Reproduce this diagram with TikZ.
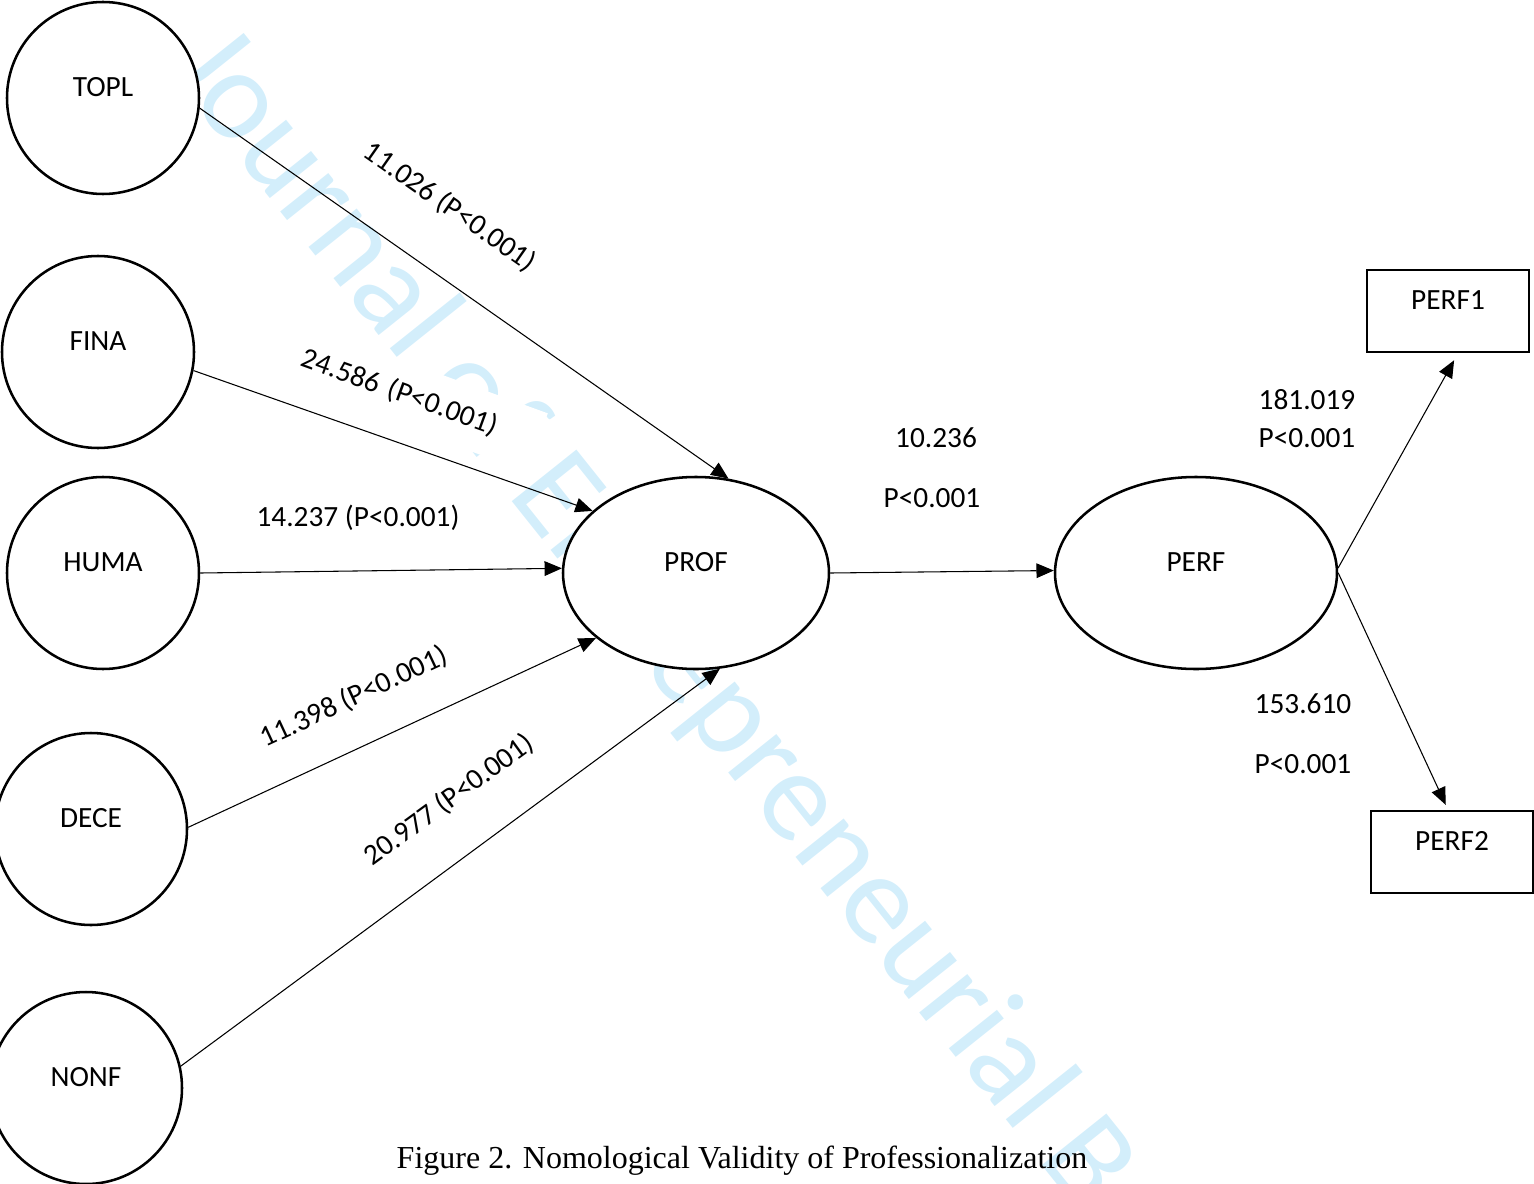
\documentclass[tikz,border=0pt]{standalone}
\usepackage{fontspec}
\setmainfont{Carlito}
\newfontfamily\capfont{Liberation Serif}
\usepackage{tikz}
\usetikzlibrary{shapes.geometric}
\usetikzlibrary{arrows.meta}
\definecolor{wmblue}{RGB}{211,238,251}
\newcommand\lblfont{\fontsize{22}{26}\selectfont}

\begin{document}
\begin{tikzpicture}[x=0.75pt,y=0.75pt,yscale=-1,xscale=1,
  latent/.style={circle, draw, line width=1.9pt, fill=white, inner sep=0pt, minimum size=144pt, text depth=16pt, font=\lblfont},
  bigoval/.style={ellipse, draw, line width=1.9pt, fill=white, inner sep=0pt, minimum height=144pt, text depth=16pt, font=\lblfont},
  indic/.style={rectangle, draw, line width=1.9pt, fill=white, inner sep=0pt, minimum width=121.5pt, minimum height=61.5pt, text depth=16pt, font=\lblfont},
  link/.style={-{Triangle[length=13pt,width=11pt]}, line width=0.8pt},
  coef/.style={font=\lblfont, inner sep=1pt, fill=white},
  wmark/.style={font=\fontsize{96.75}{97}\selectfont, text=wmblue, inner sep=0pt}]
\useasboundingbox (0,0) rectangle (1534,1184);
% Watermark
\begin{scope}
\clip (0,0) rectangle (1534,1184);
\node [wmark, rotate=-51.4, anchor=base west] (wm) at (165,67) {Journal of Entrepreneurial B};
\end{scope}
%Shape: Circle
\node [latent] (topl) at (103,98) {TOPL};
\node [latent] (fina) at (98,352) {FINA};
\node [latent] (huma) at (103,573) {HUMA};
\node [latent] (dece) at (91,829) {DECE};
\node [latent] (nonf) at (86,1088) {NONF};
%Shape: Ellipse
\node [bigoval, minimum width=199.5pt] (prof) at (696,573) {PROF};
\node [bigoval, minimum width=211.5pt] (perf) at (1196,573) {PERF};
%Shape: Rectangle
\node [indic] (perf1) at (1448,311) {PERF1};
\node [indic] (perf2) at (1452,852) {PERF2};
%Straight Lines
\draw [link] (topl.-6) -- (prof.71);
\draw [link] (fina.-11) -- (prof.149);
\draw [link] (huma.east) -- (prof.178);
\draw [link] (dece.1) -- (prof.213);
\draw [link] (nonf.13) -- (prof.-76);
\draw [link] (prof.east) -- (perf.179);
\draw [link, shorten >=6pt] (perf.2) -- ([xshift=7.5pt]perf1.south);
\draw [link, shorten >=4pt] (perf.east) -- ([xshift=-3pt]perf2.north);
% Text Node
\node [coef, rotate=-35] (c1) at (450,207) {11.026 (P<0.001)};
\node [coef, rotate=-20, inner xsep=8pt, text width=179pt, align=left, minimum height=46.5pt] (c2) at (415,398) {24.586 (P<0.001)};
\node [coef] (c3) at (358,518) {14.237 (P<0.001)};
\node [coef, rotate=25] (c4) at (354,697) {11.398 (P<0.001)};
\node [coef, rotate=36] (c5) at (449,800) {20.977 (P<0.001)};
% Text Node
\node [coef] (c6) at (936,438) {10.236};
\node [coef] (p6) at (932,498) {P<0.001};
\node [coef] (c7) at (1307,400) {181.019};
\node [coef] (p7) at (1307,438) {P<0.001};
\node [coef] (c8) at (1303,704) {153.610};
\node [coef] (p8) at (1303,764) {P<0.001};
% Caption
\node [font=\capfont\fontsize{24}{28}\selectfont, inner sep=0pt] (capt) at (742,1161) {Figure 2. Nomological Validity of Professionalization};
\end{tikzpicture}
\end{document}
